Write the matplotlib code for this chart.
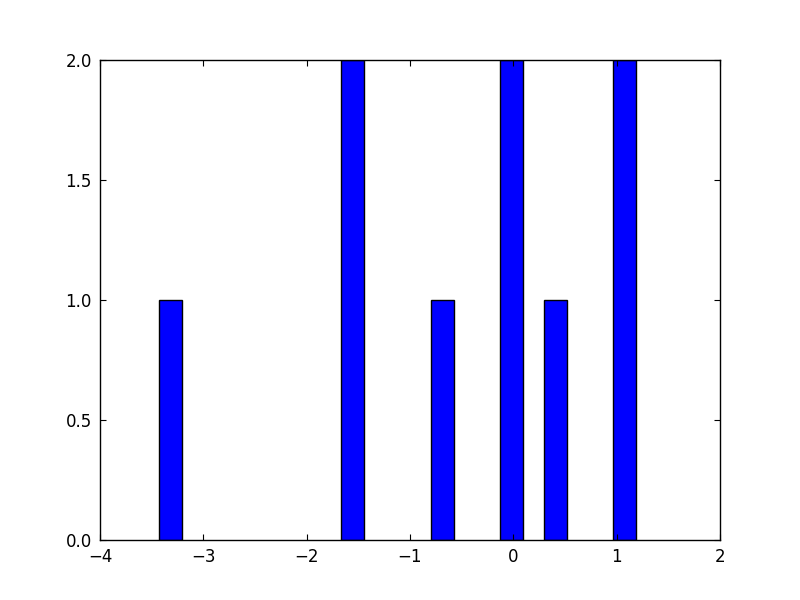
import matplotlib
matplotlib.use("Agg")
import matplotlib.pyplot as plt

# bar centres and counts
centers = [-3.322, -1.560, -0.684, -0.022, 0.412, 1.074]
counts = [1, 2, 1, 2, 1, 2]
bar_width = 0.222

fig = plt.figure(figsize=(8, 6), dpi=100)
ax = fig.add_axes([0.125, 0.1, 0.775, 0.8])

ax.bar(centers, counts, width=bar_width, color="b", edgecolor="k", linewidth=1)

ax.set_xlim(-4, 2)
ax.set_ylim(0, 2.0)
ax.set_xticks([-4, -3, -2, -1, 0, 1, 2])
ax.set_yticks([0.0, 0.5, 1.0, 1.5, 2.0])
ax.set_yticklabels(["0.0", "0.5", "1.0", "1.5", "2.0"])
ax.tick_params(direction="in", top=True, right=True, labelsize=12, length=4, pad=6)
for s in ax.spines.values():
    s.set_linewidth(1)

fig.savefig("out.png", dpi=100)
